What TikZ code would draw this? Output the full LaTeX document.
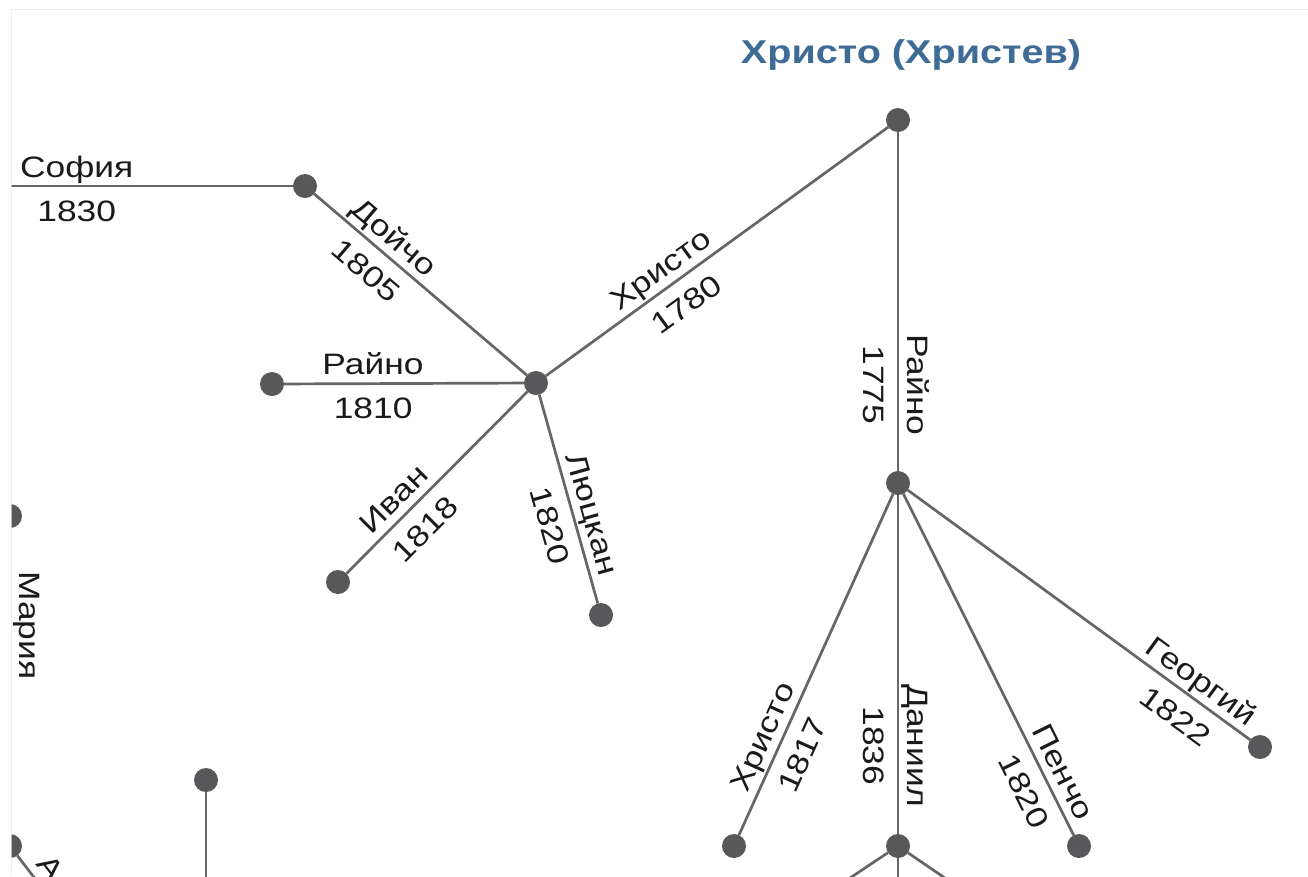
\documentclass[tikz,border=0pt]{standalone}
\usepackage{fontspec}
\newfontfamily\lbl[FakeStretch=1.2]{Liberation Sans}
\definecolor{edgegray}{HTML}{666666}
\definecolor{dotgray}{HTML}{58585A}
\definecolor{titleblue}{HTML}{3F6B97}
\definecolor{framegray}{HTML}{EEEEEE}
\definecolor{textblack}{HTML}{1A1A1A}

\begin{document}
\begin{tikzpicture}[x=1pt,y=-1pt,
  person/.style={circle,fill=dotgray,inner sep=0pt,outer sep=0pt,minimum size=24pt},
  branch/.style={draw=edgegray,line width=2.7pt},
  given/.style={sloped,anchor=south,inner sep=0pt,outer sep=9pt,text depth=0pt,
    text=textblack,font={\lbl\fontsize{29.5}{34}\selectfont}},
  born/.style={sloped,anchor=north,inner sep=0pt,outer sep=14pt,text height=21pt,
    text depth=0pt,text=textblack,font={\lbl\fontsize{29.5}{34}\selectfont}}]

  \useasboundingbox (0,0) rectangle (1308,876);
  \fill[white] (0,0) rectangle (1308,876);
  \draw[framegray,line width=1pt] (11,876) -- (11,9) -- (1308,9);
  \clip (11.5,9.5) rectangle (1308,876);

  \node[font={\lbl\fontsize{33}{38}\selectfont\bfseries},text=titleblue]
    (title) at (911,55) {Христо (Христев)};

  \node[person] (root)         at (898,120) {};
  \node[person] (hristo_1780)  at (536,383) {};
  \node[person] (doicho_1805)  at (305,186) {};
  \node[person] (raino_1810)   at (272,384) {};
  \node[person] (ivan_1818)    at (338,582) {};
  \node[person] (lyuckan_1820) at (601,615) {};
  \node[person] (raino_1775)   at (898,483) {};
  \node[person] (hristo_1817)  at (734,846) {};
  \node[person] (daniil_1836)  at (898,846) {};
  \node[person] (pencho_1820)  at (1079,846) {};
  \node[person] (georgi_1822)  at (1260,747) {};
  \node[person] (maria)        at (10,516) {};
  \node[person] (left_0)       at (10,846) {};
  \node[person] (bottom_0)     at (206,780) {};

  \coordinate (sofia_1830) at (-20,186);
  \coordinate (a_0)        at (56,906);
  \coordinate (bottom_1)   at (206,906);
  \coordinate (daniil_l)   at (808,906);
  \coordinate (daniil_m)   at (898,906);
  \coordinate (daniil_r)   at (986,906);

  \path[branch] (hristo_1780) edge node[given,pos=.3675] {Христо} node[born,pos=.3675] {1780} (root)
                (root) edge node[given,pos=.746] {Райно} node[born,pos=.746] {1775} (raino_1775)
                (doicho_1805) edge node[given,pos=.319] {Дойчо} node[born,pos=.319] {1805} (hristo_1780)
                (sofia_1830) edge node[given,pos=.309] {София} node[born,pos=.309] {1830} (doicho_1805)
                (raino_1810) edge node[given,pos=.371] {Райно} node[born,pos=.371] {1810} (hristo_1780)
                (ivan_1818) edge node[given,pos=.338] {Иван} node[born,pos=.338] {1818} (hristo_1780)
                (hristo_1780) edge node[given,pos=.597] {Люцкан} node[born,pos=.597] {1820} (lyuckan_1820)
                (hristo_1817) edge node[given,pos=.265] {Христо} node[born,pos=.265] {1817} (raino_1775)
                (raino_1775) edge node[given,pos=.740] {Даниил} node[born,pos=.740] {1836} (daniil_1836)
                (raino_1775) edge node[given,pos=.839] {Пенчо} node[born,pos=.839] {1820} (pencho_1820)
                (raino_1775) edge node[given,pos=.825] {Георгий} node[born,pos=.825] {1822} (georgi_1822)
                (maria) edge node[given,pos=.318] {Мария} (left_0)
                (left_0) edge node[given,pos=.476] {А} (a_0)
                (bottom_0) edge (bottom_1)
                (daniil_1836) edge (daniil_l)
                (daniil_1836) edge (daniil_m)
                (daniil_1836) edge (daniil_r);
\end{tikzpicture}
\end{document}
